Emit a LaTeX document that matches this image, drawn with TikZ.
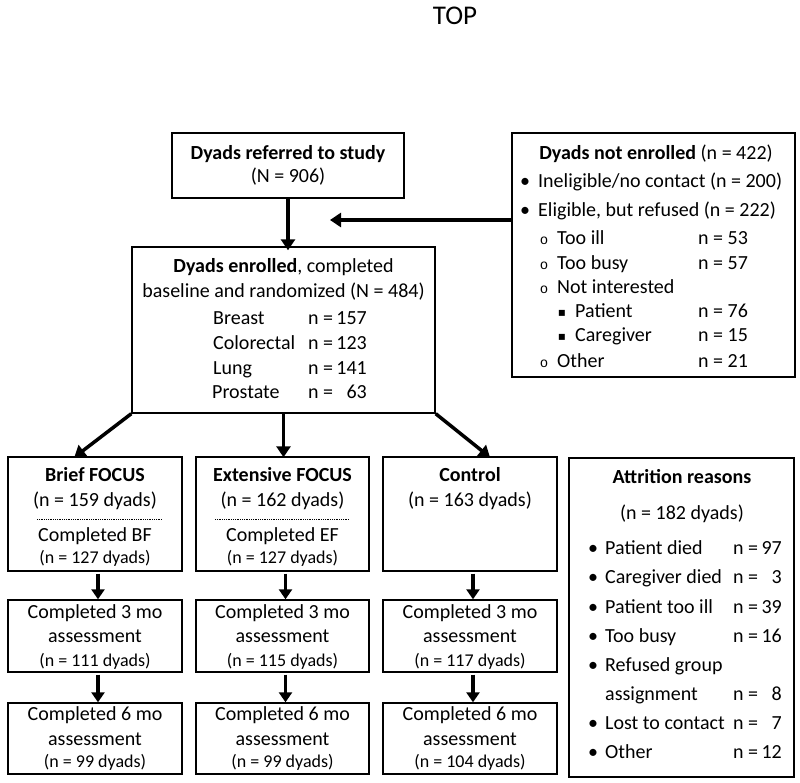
\documentclass[tikz,border=0pt]{standalone}
\usepackage{fontspec}
\setmainfont{Carlito}
\newfontfamily\symfont{DejaVu Sans}
\newfontfamily\lmono{Liberation Mono}
\usetikzlibrary{arrows.meta,calc}
\begin{document}
\begin{tikzpicture}[x=1pt,y=-1pt,
  box/.style={draw,line width=1.4pt,inner sep=0pt},
  tbox/.style={draw,line width=2.4pt,inner sep=0pt},
  txt/.style={inner sep=0pt,text height=14pt,text depth=4.5pt,font=\fontsize{20}{24}\selectfont},
  sm/.style={inner sep=0pt,text height=12.5pt,text depth=4pt,font=\fontsize{18}{21}\selectfont},
  lft/.style={anchor=west},
  rgt/.style={anchor=east},
  arr/.style={line width=3.5pt,-{Triangle[length=11pt,width=14pt]}},
  sarr/.style={line width=3.5pt,-{Triangle[length=10pt,width=13pt]}},
]
\useasboundingbox (0,0) rectangle (800,783);
% title
\node[inner sep=0pt,font=\fontsize{27}{30}\selectfont] (top) at (455,16) {TOP};

% boxes
\node[box,minimum width=232pt,minimum height=65pt] (ref) at (288,165.5) {};
\node[box,minimum width=303pt,minimum height=166pt] (enr) at (283.5,330) {};
\node[tbox,minimum width=283pt,minimum height=244pt] (ne) at (653.5,255) {};
\node[box,minimum width=174pt,minimum height=114pt] (bf) at (95,514) {};
\node[box,minimum width=173pt,minimum height=114pt] (ef) at (282.5,514) {};
\node[box,minimum width=174pt,minimum height=114pt] (ct) at (470,514) {};
\node[tbox,minimum width=225pt,minimum height=319pt] (at) at (681.5,617.5) {};
\node[box,minimum width=174pt,minimum height=72pt] (b3) at (95,636) {};
\node[box,minimum width=173pt,minimum height=72pt] (e3) at (282.5,636) {};
\node[box,minimum width=174pt,minimum height=72pt] (c3) at (470,636) {};
\node[box,minimum width=174pt,minimum height=71pt] (b6) at (95,738.5) {};
\node[box,minimum width=173pt,minimum height=71pt] (e6) at (282.5,738.5) {};
\node[box,minimum width=174pt,minimum height=71pt] (c6) at (470,738.5) {};

% referred
\node[txt] (ref1) at (288,155) {\textbf{Dyads referred to study}};
\node[txt] (ref2) at (288,178) {(N = 906)};

% enrolled
\node[txt] (en1) at (283.5,268) {\textbf{Dyads enrolled}, completed};
\node[txt] (en2) at (283.5,293) {baseline and randomized (N = 484)};
\node[txt,lft] (en3) at (213,320) {Breast};
\node[txt,lft] (en4) at (213,345) {Colorectal};
\node[txt,lft] (en5) at (213,370) {Lung};
\node[txt,lft] (en6) at (212,394) {Prostate};
\foreach \yy/\nn [count=\i] in {320/157,345/123,370/141,394/63}{
  \node[txt,lft] (enn\i) at (308,\yy) {n =};
  \node[txt,rgt] (env\i) at (367,\yy) {\nn};
}

% not enrolled
\node[txt] (ne0) at (656,155) {\textbf{Dyads not enrolled} (n = 422)};
\node[txt] (neb1) at (525,183) {•};
\node[txt,lft] (ne1) at (538,183) {Ineligible/no contact (n = 200)};
\node[txt] (neb2) at (525,212) {•};
\node[txt,lft] (ne2) at (538,212) {Eligible, but refused (n = 222)};
\foreach \yy/\lab [count=\i] in {240/Too ill,265/Too busy,289/Not interested,363/Other}{
  \node[inner sep=0pt,font=\lmono\fontsize{14}{16}\selectfont] (nec\i) at (544,\yy+1) {o};
  \node[txt,lft] (nel\i) at (557,\yy) {\lab};
}
\foreach \yy/\lab [count=\i] in {313/Patient,337/Caregiver}{
  \node[inner sep=0pt,font=\symfont\fontsize{12}{14}\selectfont] (nes\i) at (562,\yy) {▪};
  \node[txt,lft] (nep\i) at (575,\yy) {\lab};
}
\foreach \yy/\lab [count=\i] in {240/n = 53,265/n = 57,313/n = 76,337/n = 15,363/n = 21}{
  \node[txt,lft] (nen\i) at (698,\yy) {\lab};
}

% arms
\node[txt] (bf1) at (95,477) {\textbf{Brief FOCUS}};
\node[txt] (bf2) at (95,502) {(n = 159 dyads)};
\node[txt] (bf3) at (95,537) {Completed BF};
\node[sm] (bf4) at (95,559) {(n = 127 dyads)};
\draw[densely dotted,line width=0.8pt] (37,519) coordinate (bfd1) -- (162,519) coordinate (bfd2);

\node[txt] (ef1) at (282.5,477) {\textbf{Extensive FOCUS}};
\node[txt] (ef2) at (282.5,502) {(n = 162 dyads)};
\node[txt] (ef3) at (282.5,537) {Completed EF};
\node[sm] (ef4) at (282.5,559) {(n = 127 dyads)};
\draw[densely dotted,line width=0.8pt] (215,519) coordinate (efd1) -- (349,519) coordinate (efd2);

\node[txt] (ct1) at (470,477) {\textbf{Control}};
\node[txt] (ct2) at (470,502) {(n = 163 dyads)};

\foreach \nm/\xx/\a/\b in {b/95/111/99,e/282.5/115/99,c/470/117/104}{
  \node[txt] (\nm31) at (\xx,614) {Completed 3 mo};
  \node[txt] (\nm32) at (\xx,638) {assessment};
  \node[sm] (\nm33) at (\xx,662) {(n = \a\ dyads)};
  \node[txt] (\nm61) at (\xx,716) {Completed 6 mo};
  \node[txt] (\nm62) at (\xx,741) {assessment};
  \node[sm] (\nm63) at (\xx,763) {(n = \b\ dyads)};
}

% attrition
\node[txt] (at0) at (682,479) {\textbf{Attrition reasons}};
\node[txt] (at00) at (682,515) {(n = 182 dyads)};
\foreach \yy/\lab [count=\i] in {550/Patient died,579/Caregiver died,609/Patient too ill,638/Too busy,667/Refused group,725/Lost to contact,754/Other}{
  \node[txt] (atb\i) at (593,\yy) {•};
  \node[txt,lft] (atl\i) at (605,\yy) {\lab};
}
\node[txt,lft] (atl8) at (605,696) {assignment};
\foreach \yy/\nn [count=\i] in {550/97,579/3,609/39,638/16,696/8,725/7,754/12}{
  \node[txt,lft] (atn\i) at (733,\yy) {n =};
  \node[txt,rgt] (atv\i) at (782,\yy) {\nn};
}

% connectors
\draw[arr] (ref.south) -- ([yshift=-4pt]ref.south |- enr.north);
\coordinate (mrg) at (330,220);
\draw[arr] (ne.west |- mrg) -- (mrg);
\draw[arr,line join=round] (enr.south west) -- ([xshift=67pt,yshift=-1pt]bf.north west);
\draw[arr] (enr.south) -- ([yshift=-1pt]enr.south |- ef.north);
\draw[arr] (enr.south east) -- ([xshift=20pt,yshift=-1pt]ct.north);
\foreach \u/\v in {bf/b3,ef/e3,ct/c3,b3/b6,e3/e6,c3/c6}{
  \draw[sarr] ([xshift=3pt,yshift=-2pt]\u.south) -- ([xshift=3pt]\v.north);
}
\end{tikzpicture}
\end{document}
